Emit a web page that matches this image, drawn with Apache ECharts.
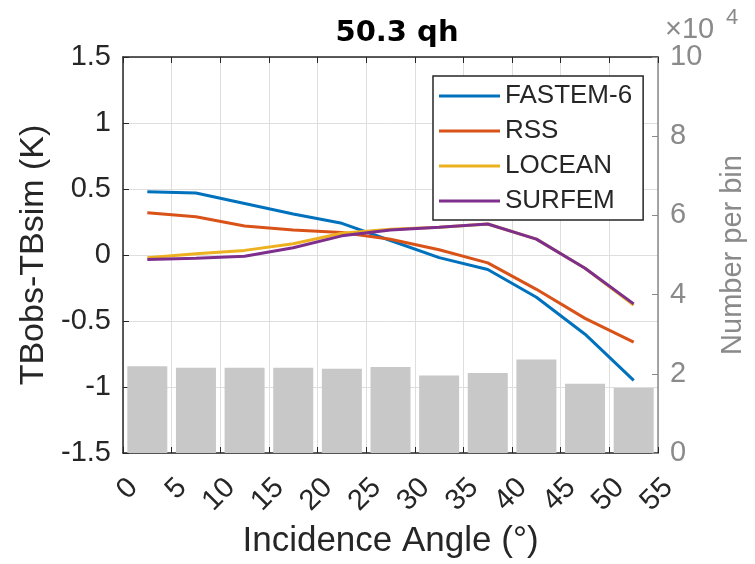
<!DOCTYPE html>
<html>
<head>
<meta charset="utf-8">
<script src="https://cdn.jsdelivr.net/npm/echarts@6/dist/echarts.min.js"></script>
<style>
  html, body { margin: 0; padding: 0; background: #fff; }
  #main { width: 755px; height: 564px; }
</style>
</head>
<body>
<div id="main"></div>
<script>
var angles = [2.5, 7.5, 12.5, 17.5, 22.5, 27.5, 32.5, 37.5, 42.5, 47.5, 52.5];
var fastem = [0.48, 0.47, 0.39, 0.31, 0.24, 0.11, -0.02, -0.11, -0.32, -0.60, -0.95];
var rss    = [0.32, 0.29, 0.22, 0.19, 0.17, 0.12, 0.04, -0.06, -0.26, -0.48, -0.66];
var locean = [-0.02, 0.01, 0.035, 0.085, 0.165, 0.195, 0.21, 0.235, 0.12, -0.10, -0.38];
var surfem = [-0.035, -0.025, -0.01, 0.055, 0.145, 0.19, 0.21, 0.235, 0.12, -0.10, -0.37];
var counts = [21900, 21500, 21500, 21500, 21300, 21700, 19600, 20200, 23600, 17500, 16400];

var myChart = echarts.init(document.getElementById('main'));
var FONT = 'Liberation Sans';
var INK = '#262626';
var GREY = '#8a8a8a';

function pairs(ys) {
  return angles.map(function (a, i) { return [a, ys[i]]; });
}
function lineSeries(name, ys, color) {
  return {
    name: name,
    type: 'line',
    data: pairs(ys),
    symbol: 'none',
    lineStyle: { color: color, width: 3 },
    itemStyle: { color: color },
    z: 5
  };
}

var option = {
  animation: false,
  textStyle: { fontFamily: FONT },
  title: {
    text: '50.3 qh',
    left: 392,
    textAlign: 'center',
    top: 14,
    textStyle: { fontSize: 29, fontWeight: 'bold', color: '#000', fontFamily: 'DejaVu Sans' }
  },
  legend: {
    data: ['FASTEM-6', 'RSS', 'LOCEAN', 'SURFEM'],
    orient: 'vertical',
    left: 433,
    top: 76,
    padding: [7, 11, 6, 6],
    itemGap: 9,
    itemWidth: 61,
    itemHeight: 3,
    icon: 'rect',
    borderColor: '#262626',
    borderWidth: 1.5,
    borderRadius: 0,
    backgroundColor: '#fff',
    textStyle: { fontSize: 26, color: INK, fontFamily: FONT }
  },
  grid: { left: 123, right: 93, top: 57, bottom: 102 },
  xAxis: [{
    type: 'value',
    min: 0, max: 55, interval: 5,
    name: 'Incidence Angle (°)',
    nameLocation: 'middle',
    nameGap: 71,
    nameTextStyle: { fontSize: 35, color: INK },
    axisLine: { onZero: false, lineStyle: { color: INK, width: 1.5 } },
    axisTick: { inside: true, length: 6, lineStyle: { color: INK } },
    axisLabel: { rotate: 45, fontSize: 29, color: INK, margin: 20, align: 'right', verticalAlign: 'top' },
    splitLine: { show: true, lineStyle: { color: '#dedede', width: 1 } }
  }, {
    type: 'value',
    position: 'top',
    min: 0, max: 55, interval: 5,
    axisLine: { show: true, onZero: false, lineStyle: { color: INK, width: 1.5 } },
    axisTick: { inside: true, length: 6, lineStyle: { color: INK } },
    axisLabel: { show: false },
    splitLine: { show: false }
  }],
  yAxis: [{
    type: 'value',
    min: -1.5, max: 1.5, interval: 0.5,
    name: 'TBobs-TBsim (K)',
    nameLocation: 'middle',
    nameGap: 72,
    nameRotate: 90,
    nameTextStyle: { fontSize: 34, color: INK },
    axisLine: { show: true, onZero: false, lineStyle: { color: INK, width: 1.5 } },
    axisTick: { show: true, inside: true, length: 6, lineStyle: { color: INK } },
    axisLabel: { fontSize: 29, color: INK, margin: 12 },
    splitLine: { show: true, lineStyle: { color: '#dedede', width: 1 } }
  }, {
    type: 'value',
    position: 'right',
    min: 0, max: 100000, interval: 20000,
    name: 'Number per bin',
    nameLocation: 'middle',
    nameGap: 60,
    nameRotate: 90,
    nameTextStyle: { fontSize: 29, color: GREY },
    axisLine: { show: true, onZero: false, lineStyle: { color: GREY, width: 1.5 } },
    axisTick: { show: true, inside: true, length: 6, lineStyle: { color: GREY } },
    axisLabel: {
      fontSize: 29, color: GREY, margin: 12,
      formatter: function (v) { return String(v / 10000); }
    },
    splitLine: { show: false }
  }],
  graphic: [{
    type: 'text',
    left: 665,
    top: 15,
    style: { text: '×10', fill: GREY, font: '29px "Liberation Sans"' }
  }, {
    type: 'text',
    left: 726,
    top: 7,
    style: { text: '4', fill: GREY, font: '22px "Liberation Sans"' }
  }],
  series: [{
    name: 'count',
    type: 'bar',
    yAxisIndex: 1,
    data: pairs(counts),
    barWidth: 40,
    itemStyle: { color: '#c8c8c8' },
    z: 1
  },
    lineSeries('FASTEM-6', fastem, '#0072BD'),
    lineSeries('RSS', rss, '#D95319'),
    lineSeries('LOCEAN', locean, '#EDB120'),
    lineSeries('SURFEM', surfem, '#7E2F8E')
  ]
};
myChart.setOption(option);
</script>
</body>
</html>
